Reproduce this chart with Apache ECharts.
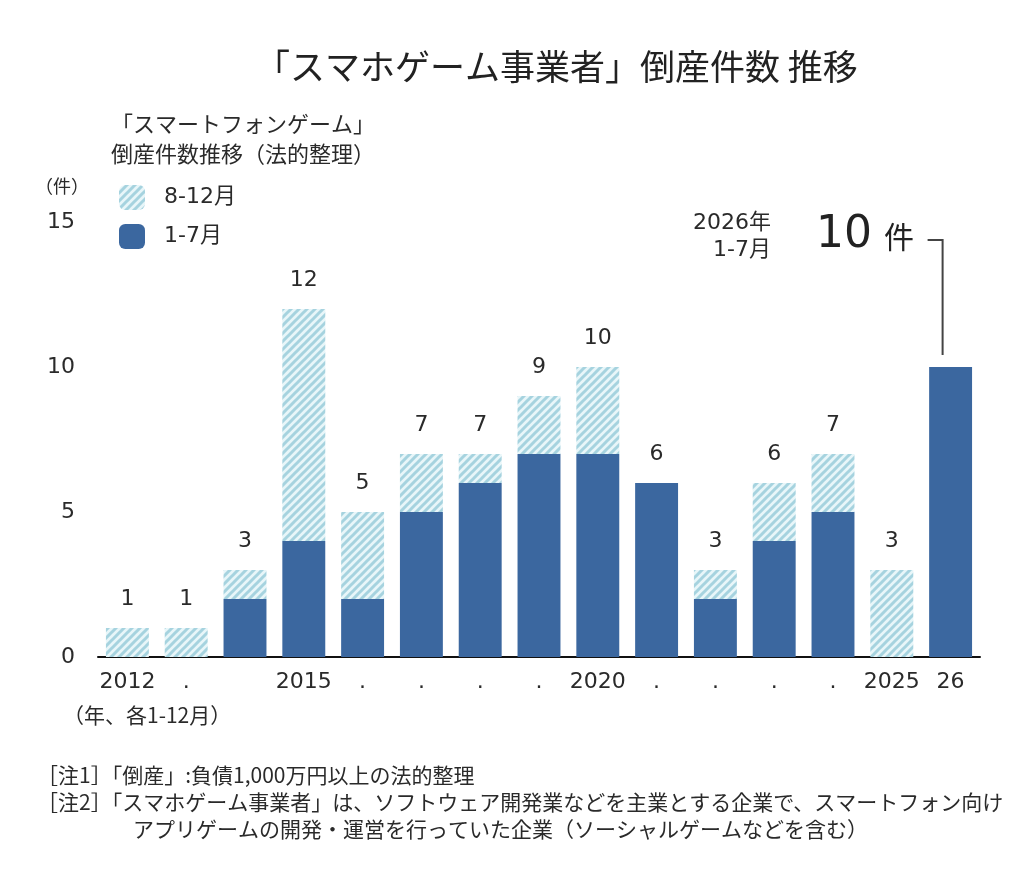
<!DOCTYPE html>
<html>
<head>
<meta charset="utf-8">
<script src="https://cdn.jsdelivr.net/npm/echarts@6/dist/echarts.min.js"></script>
<style>
  html, body { margin: 0; padding: 0; background: #fff; }
  #main { width: 1024px; height: 890px; }
</style>
</head>
<body>
<div id="main"></div>
<script>
var years = ['2012', '2013', '2014', '2015', '2016', '2017', '2018', '2019',
             '2020', '2021', '2022', '2023', '2024', '2025', '2026'];
var tickLabels = ['2012', '.', '', '2015', '.', '.', '.', '.',
                  '2020', '.', '.', '.', '.', '2025', '26'];
var janJul = [0, 0, 2, 4, 2, 5, 6, 7, 7, 6, 2, 4, 5, 0, 10];
var augDec = [1, 1, 1, 8, 3, 2, 1, 2, 3, 0, 1, 2, 2, 3, 0];
var yTicks = [0, 5, 10, 15];

var numFont = "'DejaVu Sans', 'Noto Sans CJK JP', sans-serif";
var jpFont = "'Noto Sans CJK JP', sans-serif";
var darkBlue = '#3b679f';
var textColor = '#2a2a2a';

// hatch pattern for 8-12月
function hatch() {
  var c = document.createElement('canvas');
  c.width = 8; c.height = 8;
  var g = c.getContext('2d');
  g.fillStyle = '#e8f6f9';
  g.fillRect(0, 0, 8, 8);
  g.strokeStyle = '#a6d3df';
  g.lineWidth = 3;
  g.beginPath();
  g.moveTo(0, 8); g.lineTo(8, 0);
  g.moveTo(-2, 2); g.lineTo(2, -2);
  g.moveTo(6, 10); g.lineTo(10, 6);
  g.stroke();
  return c;
}

var totals = years.map(function (y, i) {
  var t = janJul[i] + augDec[i];
  return i === years.length - 1 ? { value: t, label: { show: false } } : t;
});

var noteStyle = { fontFamily: jpFont, fontSize: 21, fontWeight: 'normal', color: textColor };

var chart = echarts.init(document.getElementById('main'));
var option = {
  animation: false,
  backgroundColor: '#fff',
  title: [
    {
      text: '「スマホゲーム事業者」倒産件数 推移',
      left: 250, top: 44,
      textStyle: { fontFamily: jpFont, fontSize: 35, fontWeight: 'normal', color: '#222' }
    },
    {
      text: '「スマートフォンゲーム」\n倒産件数推移（法的整理）',
      left: 106, top: 104,
      textStyle: { fontFamily: jpFont, fontSize: 22, fontWeight: 'normal', color: textColor, lineHeight: 30 }
    },
    {
      text: '（件）',
      left: 30, top: 172,
      textStyle: { fontFamily: jpFont, fontSize: 18, fontWeight: 'normal', color: textColor }
    },
    {
      text: '（年、各1-12月）',
      left: 58, top: 700,
      textStyle: { fontFamily: jpFont, fontSize: 21, fontWeight: 'normal', color: textColor }
    },
    {
      text: '［注1］「倒産」:負債1,000万円以上の法的整理',
      left: 32, top: 760, textStyle: noteStyle
    },
    {
      text: '［注2］「スマホゲーム事業者」は、ソフトウェア開発業などを主業とする企業で、スマートフォン向け',
      left: 32, top: 787, textStyle: noteStyle
    },
    {
      text: 'アプリゲームの開発・運営を行っていた企業（ソーシャルゲームなどを含む）',
      left: 128, top: 814, textStyle: noteStyle
    }
  ],
  legend: {
    orient: 'vertical',
    left: 114, top: 180,
    itemWidth: 26, itemHeight: 25, itemGap: 14,
    icon: 'roundRect',
    data: ['8-12月', '1-7月'],
    textStyle: { fontFamily: numFont, fontSize: 22, color: textColor, padding: [0, 0, 0, 14] }
  },
  grid: { left: 98, right: 44, top: 222, bottom: 233 },
  xAxis: {
    type: 'category',
    data: years,
    axisLine: { lineStyle: { color: '#111', width: 2 } },
    axisTick: { show: false },
    axisLabel: {
      interval: 0, margin: 14,
      fontFamily: numFont, fontSize: 22, color: textColor,
      formatter: function (v, i) { return tickLabels[i]; }
    }
  },
  yAxis: {
    type: 'value',
    min: yTicks[0], max: yTicks[yTicks.length - 1], interval: yTicks[1] - yTicks[0],
    axisLine: { show: false },
    axisTick: { show: false },
    splitLine: { show: false },
    axisLabel: { margin: 23, fontFamily: numFont, fontSize: 22, color: textColor }
  },
  series: [
    {
      name: '1-7月', type: 'bar', stack: 'a', barWidth: '73%',
      data: janJul,
      itemStyle: { color: darkBlue }
    },
    {
      name: '8-12月', type: 'bar', stack: 'a', barWidth: '73%',
      data: augDec,
      itemStyle: { color: { image: hatch(), repeat: 'repeat' } }
    },
    {
      name: 'total', type: 'bar', barWidth: '73%', barGap: '-100%', silent: true,
      data: totals,
      itemStyle: { color: 'rgba(0,0,0,0)' },
      label: {
        show: true, position: 'top', distance: 18,
        fontFamily: numFont, fontSize: 22, color: textColor
      },
      z: 1
    }
  ]
};
chart.setOption(option);

// callout for the 2026 bar
var last = years.length - 1;
var p = chart.convertToPixel({ xAxisIndex: 0, yAxisIndex: 0 }, [last, janJul[last]]);
var lx = p[0] - 8, ly = 240;
chart.setOption({
  graphic: [
    {
      type: 'polyline',
      shape: { points: [[lx - 15, ly], [lx, ly], [lx, p[1] - 12]] },
      style: { stroke: '#444', lineWidth: 2, fill: null }
    },
    {
      type: 'text', left: 816, top: 214,
      style: { text: '10', fontFamily: numFont, fontSize: 44, fill: '#222' }
    },
    {
      type: 'text', left: 884, top: 222,
      style: { text: '件', fontFamily: jpFont, fontSize: 30, fill: '#222' }
    },
    {
      type: 'text',
      style: {
        x: 771, y: 210, text: '2026年\n1-7月', align: 'right',
        fontFamily: numFont, fontSize: 22, fill: textColor, lineHeight: 27
      }
    }
  ]
});
</script>
</body>
</html>
